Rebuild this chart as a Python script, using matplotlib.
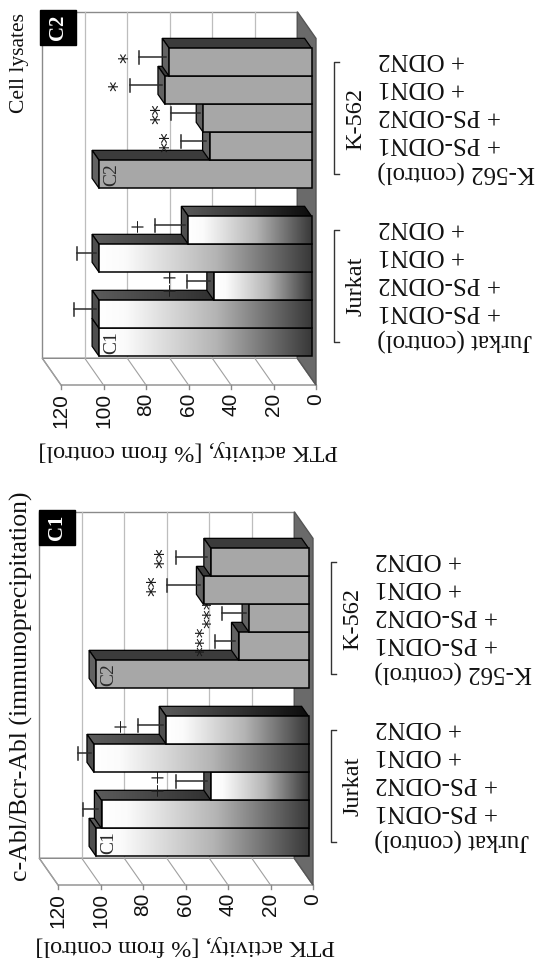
import numpy as np
import matplotlib
matplotlib.use("Agg")
import matplotlib.pyplot as plt
from matplotlib.patches import Polygon, Rectangle
from matplotlib.colors import LinearSegmentedColormap

# ---------------- data ----------------
categories = ["Jurkat (control)", "+ PS-ODN1", "+ PS-ODN2", "+ ODN1", "+ ODN2",
              "K-562 (control)", "+ PS-ODN1", "+ PS-ODN2", "+ ODN1", "+ ODN2"]
positions = [0, 1, 2, 3, 4, 6, 7, 8, 9, 10]
groups = ["Jurkat", "K-562"]
value_ticks = [0, 20, 40, 60, 80, 100, 120]
ylabel = "PTK activity, [% from control]"

# panel C2 (top): cell lysates
lys_values = [100, 100, 46, 100, 58, 100, 48, 51, 69, 67]
lys_errors = [0, 10, 11, 9, 14, 0, 12, 13.5, 15, 12.5]
lys_marks = ["", "", "++", "", "+", "", "**", "**", "*", "*"]

# panel C1 (bottom): immunoprecipitation
ip_values = [100, 97.5, 46, 101, 67, 100, 33, 28, 49.5, 46]
ip_errors = [0, 7, 15, 6, 11.5, 0, 9.5, 11, 15.5, 15]
ip_marks = ["", "", "++", "", "+", "", "***", "***", "**", "**"]

# ---------------- style / geometry ----------------
W, H = 540, 965
SERIF = ["Liberation Serif", "DejaVu Serif"]
SANS = ["Liberation Sans", "DejaVu Sans"]
DX, DY = 8.8, 0.954            # full depth offset in data units (value, category)
F1, F2, FE = 0.23, 0.61, 0.42  # bar front depth, bar back depth, error-bar depth
CMIN, CMAX = -1.3, 11.08

jur_front = LinearSegmentedColormap.from_list(
    "jf", [(0, "#ffffff"), (0.12, "#fbfbfb"), (0.55, "#b4b4b4"), (1, "#383838")])
jur_strip = LinearSegmentedColormap.from_list("js", [(0, "#5c5c5c"), (1, "#0c0c0c")])
grad = np.linspace(0, 1, 256).reshape(1, -1)

fig = plt.figure(figsize=(W / 100, H / 100), dpi=100)


def P(v, c, f):
    return (v + DX * f, c + DY * f)


def grad_fill(ax, patch, xleft, xright, y0, y1, cmap, z):
    im = ax.imshow(grad, cmap=cmap, extent=(xleft, xright, y0, y1), aspect="auto",
                   interpolation="bilinear", zorder=z)
    im.set_clip_path(patch)


def draw_panel(rect, values, errors, marks, title, title_fs, title_off,
               box_label, box_rect, ylabel_off):
    l, t, r, b = rect
    ax = fig.add_axes([l / W, 1 - b / H, (r - l) / W, (b - t) / H])
    ax.axis("off")

    # walls and floor
    back = Polygon([P(0, CMIN, 1), P(120, CMIN, 1), P(120, CMAX, 1), P(0, CMAX, 1)],
                   closed=True, fc="white", ec="#8a8a8a", lw=1.0, zorder=1, clip_on=False)
    ax.add_patch(back)
    for v in value_ticks[1:-1]:
        x0, y0 = P(v, CMIN, 1)
        _, y1 = P(v, CMAX, 1)
        ax.plot([x0, x0], [y0, y1], color="#bdbdbd", lw=0.9, zorder=2, clip_on=False)
    side = Polygon([P(0, CMIN, 0), P(120, CMIN, 0), P(120, CMIN, 1), P(0, CMIN, 1)],
                   closed=True, fc="white", ec="#8a8a8a", lw=1.0, zorder=1, clip_on=False)
    ax.add_patch(side)
    for v in value_ticks:
        xa, ya = P(v, CMIN, 0)
        xb, yb = P(v, CMIN, 1)
        ax.plot([xa, xb], [ya, yb], color="#a0a0a0", lw=0.8, zorder=2, clip_on=False)
        ax.plot([xa, xa], [ya, ya - 0.13], color="#8a8a8a", lw=1.0, zorder=2, clip_on=False)
        ax.annotate(str(v), xy=(xa, ya), xytext=(0, -8), textcoords="offset pixels",
                    rotation=90, rotation_mode="anchor", ha="right", va="center",
                    fontsize=15, family=SANS, color="#111111")
    floor = Polygon([P(0, CMIN, 0), P(0, CMAX, 0), P(0, CMAX, 1), P(0, CMIN, 1)],
                    closed=True, fc="#6a6a6a", ec="#555555", lw=1.0, zorder=3, clip_on=False)
    ax.add_patch(floor)

    # bars
    for i, (c, v, e, m) in enumerate(zip(positions, values, errors, marks)):
        jur = i < 5
        z = 10 + 3 * c
        strip = Polygon([P(0, c + .5, F1), P(v, c + .5, F1), P(v, c + .5, F2), P(0, c + .5, F2)],
                        closed=True, fc="none" if jur else "#3b3b3b", ec="black", lw=0.9,
                        zorder=z + 0.1, clip_on=False)
        ax.add_patch(strip)
        if jur:
            grad_fill(ax, strip, v + DX * F2, DX * F1, c + .5 + DY * F1, c + .5 + DY * F2,
                      jur_strip, z)
        end = Polygon([P(v, c - .5, F1), P(v, c + .5, F1), P(v, c + .5, F2), P(v, c - .5, F2)],
                      closed=True, fc="#4e4e4e" if jur else "#626262", ec="black", lw=0.9,
                      zorder=z + 0.2, clip_on=False)
        ax.add_patch(end)
        bars = ax.barh(c + DY * F1, v, left=DX * F1, height=1.0,
                       color="none" if jur else "#a7a7a7", edgecolor="black", lw=1.1,
                       zorder=z + 1.2)
        if jur:
            grad_fill(ax, bars[0], v + DX * F1, DX * F1, c - .5 + DY * F1, c + .5 + DY * F1,
                      jur_front, z + 1.1)
        if e > 0:
            x0, y0 = P(v, c, FE)
            x1 = x0 + e
            ax.plot([x0, x1], [y0, y0], color="#2b2b2b", lw=1.1, zorder=z + 2.5, clip_on=False)
            ax.plot([x1, x1], [y0 - 0.24, y0 + 0.24], color="#2b2b2b", lw=1.1,
                    zorder=z + 2.5, clip_on=False)
            if m:
                star = "*" in m
                if star:
                    ax.annotate(m, xy=(x1, y0), xytext=(-11, 0),
                                textcoords="offset pixels", rotation=90, ha="center",
                                va="center", fontsize=14 if len(m) > 2 else 15,
                                family=["DejaVu Sans"], color="#1a1a1a", zorder=z + 2.6)
                else:
                    ax.annotate(m, xy=(x1, y0), xytext=(-15, 0),
                                textcoords="offset pixels", rotation=90, ha="center",
                                va="center", fontsize=18, family=SERIF,
                                color="#1a1a1a", zorder=z + 2.6)
        # category label
        ax.annotate(categories[i], xy=P(0, c, F1), xytext=(66, 3), textcoords="offset pixels",
                    rotation=180, rotation_mode="anchor", ha="right", va="center",
                    fontsize=18, family=SERIF, color="#111111")

    # labels in control bars
    for i, lab in ((0, "C1"), (5, "C2")):
        ax.annotate(lab, xy=P(values[i], positions[i], F1), xytext=(13, 0),
                    textcoords="offset pixels", rotation=90, ha="center", va="center",
                    fontsize=14, family=SERIF, color="#2a2a2a", zorder=40)

    # group brackets and names
    for g, idx in ((groups[0], [0, 4]), (groups[1], [5, 9])):
        ca = positions[idx[0]] + DY * F1
        cb = positions[idx[1]] + DY * F1
        xb = -8.5
        ax.plot([xb - 2.3, xb, xb, xb - 2.3], [ca, ca, cb, cb], color="#333333", lw=1.0,
                clip_on=False)
        ax.annotate(g, xy=(0, (ca + cb) / 2), xytext=(40, 0), textcoords="offset pixels",
                    rotation=90, ha="center", va="center", fontsize=17.5, family=SERIF,
                    color="#111111")

    # axis title
    ax.annotate(ylabel, xy=(60, CMIN), xytext=(0, -ylabel_off), textcoords="offset pixels",
                rotation=180, ha="center", va="center", fontsize=17.5, family=SERIF,
                color="#111111")

    # panel title: vertical text left of the back wall, ending near its top edge
    tx, ty = P(120, CMAX, 1)
    ax.text(tx, ty, title, rotation=90, rotation_mode="anchor", ha="right", va="center",
            fontsize=title_fs, family=SERIF, color="#111111", clip_on=False,
            transform=ax.transData + matplotlib.transforms.ScaledTranslation(
                title_off[0] / 100, title_off[1] / 100, fig.dpi_scale_trans))

    ax.set_xlim(120, 0)
    ax.set_ylim(CMIN, CMAX)

    # black label box
    bx, by, bw, bh = box_rect
    fig.add_artist(Rectangle((bx / W, 1 - (by + bh) / H), bw / W, bh / H,
                             transform=fig.transFigure, color="black", zorder=50))
    fig.text((bx + bw / 2) / W, 1 - (by + bh / 2) / H, box_label, rotation=90,
             ha="center", va="center", fontsize=15, fontweight="bold", family=SERIF,
             color="white", zorder=51)


draw_panel((61, 38.4, 316, 385), lys_values, lys_errors, lys_marks,
           "Cell lysates", 15.5, (-23, -1), "C2", (40, 10, 36, 35), 66)
draw_panel((58, 538.4, 313, 885), ip_values, ip_errors, ip_marks,
           "c-Abl/Bcr-Abl (immunoprecipitation)", 18.5, (-18, 20), "C1", (39, 510, 36, 35), 60)

fig.savefig("out.png", dpi=100)
